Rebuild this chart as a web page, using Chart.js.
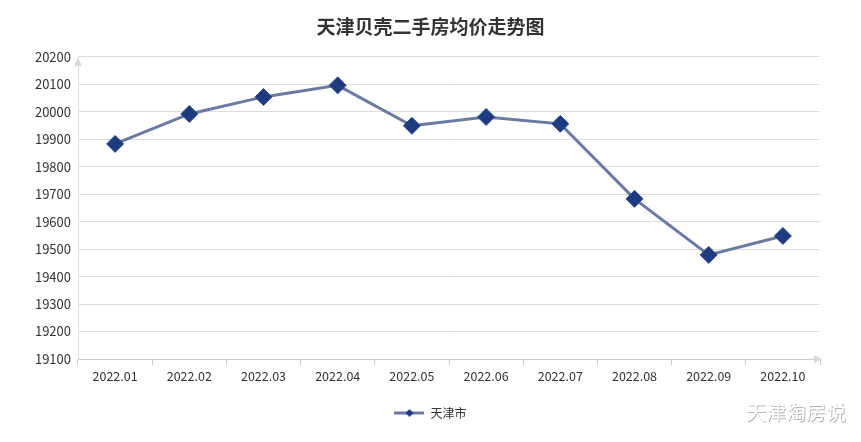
<!DOCTYPE html>
<html>
<head>
<meta charset="utf-8">
<script src="https://cdn.jsdelivr.net/npm/chart.js@4.4.1/dist/chart.umd.min.js"></script>
<style>
    html, body { margin: 0; padding: 0; background: #fff; }
    #wrap { width: 861px; height: 442px; position: relative; }
</style>
</head>
<body>
<div id="wrap"><canvas id="chart"></canvas></div>
<script>
/* 天津贝壳二手房均价走势图 */

const MESES = ["2022.01", "2022.02", "2022.03", "2022.04", "2022.05",
               "2022.06", "2022.07", "2022.08", "2022.09", "2022.10"];
const PRECIO_TIANJIN = [19883, 19992, 20054, 20096, 19949, 19981, 19956, 19683, 19479, 19548];
const Y_MIN = 19100;
const Y_MAX = 20200;
const Y_PASO = 100;

const COLOR_LINEA = "#6a7aa3";
const COLOR_PUNTO = "#1f3b80";
const FUENTE = "'Noto Sans CJK SC', 'Noto Sans', sans-serif";

// Icono de leyenda: línea + rombo
function iconoLeyenda() {
    const c = document.createElement("canvas");
    c.width = 30; c.height = 10;
    const g = c.getContext("2d");
    g.strokeStyle = COLOR_LINEA;
    g.lineWidth = 3;
    g.beginPath(); g.moveTo(0, 5); g.lineTo(30, 5); g.stroke();
    g.fillStyle = COLOR_PUNTO;
    g.beginPath();
    g.moveTo(15, 1); g.lineTo(19, 5); g.lineTo(15, 9); g.lineTo(11, 5);
    g.closePath(); g.fill();
    return c;
}

// Flechas de ejes y marca de agua
const extrasPlugin = {
    id: "extras",
    beforeDatasetsDraw(chart) {
        const { ctx, chartArea: a } = chart;
        ctx.save();
        ctx.fillStyle = "#d9d9d9";
        // flecha eje Y
        ctx.beginPath();
        ctx.moveTo(a.left, a.top + 1);
        ctx.lineTo(a.left - 4, a.top + 9);
        ctx.lineTo(a.left + 4, a.top + 9);
        ctx.closePath(); ctx.fill();
        // flecha eje X
        ctx.beginPath();
        ctx.moveTo(a.right + 2, a.bottom);
        ctx.lineTo(a.right - 6, a.bottom - 4);
        ctx.lineTo(a.right - 6, a.bottom + 4);
        ctx.closePath(); ctx.fill();
        ctx.restore();
    },
    afterDraw(chart) {
        const { ctx } = chart;
        ctx.save();
        ctx.font = "20px " + FUENTE;
        ctx.textAlign = "right";
        ctx.textBaseline = "middle";
        ctx.shadowColor = "rgba(0,0,0,0.3)";
        ctx.shadowOffsetX = 1;
        ctx.shadowOffsetY = 1;
        ctx.shadowBlur = 0;
        ctx.fillStyle = "#ffffff";
        ctx.fillText("天津淘房说", 846, 412);
        ctx.restore();
    }
};

new Chart(document.getElementById("chart"), {
    type: "line",
    data: {
        labels: MESES,
        datasets: [{
            label: "天津市",
            data: PRECIO_TIANJIN,
            borderColor: COLOR_LINEA,
            borderWidth: 3,
            pointStyle: "rectRot",
            pointRadius: 8.5,
            pointHoverRadius: 8.5,
            pointBackgroundColor: COLOR_PUNTO,
            pointBorderColor: "#2b4a8e",
            pointBorderWidth: 1,
            tension: 0
        }]
    },
    options: {
        responsive: true,
        maintainAspectRatio: false,
        animation: false,
        layout: { padding: { left: 0, right: 0, top: 0, bottom: 13 } },
        plugins: {
            title: {
                display: true,
                text: "天津贝壳二手房均价走势图",
                color: "#333",
                font: { family: FUENTE, size: 19, weight: "bold" },
                padding: { top: 15, bottom: 19 }
            },
            legend: {
                position: "bottom",
                labels: {
                    usePointStyle: true,
                    pointStyle: iconoLeyenda(),
                    pointStyleWidth: 30,
                    color: "#333",
                    font: { family: FUENTE, size: 12 },
                    padding: 19
                }
            },
            tooltip: { enabled: false }
        },
        scales: {
            x: {
                offset: true,
                grid: {
                    offset: true,
                    drawOnChartArea: false,
                    drawTicks: true,
                    tickLength: 6,
                    color: "#cccccc"
                },
                border: { color: "#cccccc", width: 1 },
                ticks: {
                    color: "#333",
                    font: { family: FUENTE, size: 12.5 },
                    padding: 4,
                    maxRotation: 0
                }
            },
            y: {
                min: Y_MIN,
                max: Y_MAX,
                afterFit(scale) { scale.width = 78; },
                grid: { color: "#dddddd", drawTicks: false },
                border: { color: "#dddddd", width: 1 },
                ticks: {
                    stepSize: Y_PASO,
                    color: "#333",
                    font: { family: FUENTE, size: 13 },
                    padding: 7,
                    callback: v => String(v)
                }
            },
            // eje derecho vacío, sólo reserva margen
            margen: {
                type: "linear",
                position: "right",
                min: 0,
                max: 1,
                afterFit(scale) { scale.width = 41; },
                grid: { display: false },
                border: { display: false },
                ticks: { display: false }
            }
        }
    },
    plugins: [extrasPlugin]
});
</script>
</body>
</html>
